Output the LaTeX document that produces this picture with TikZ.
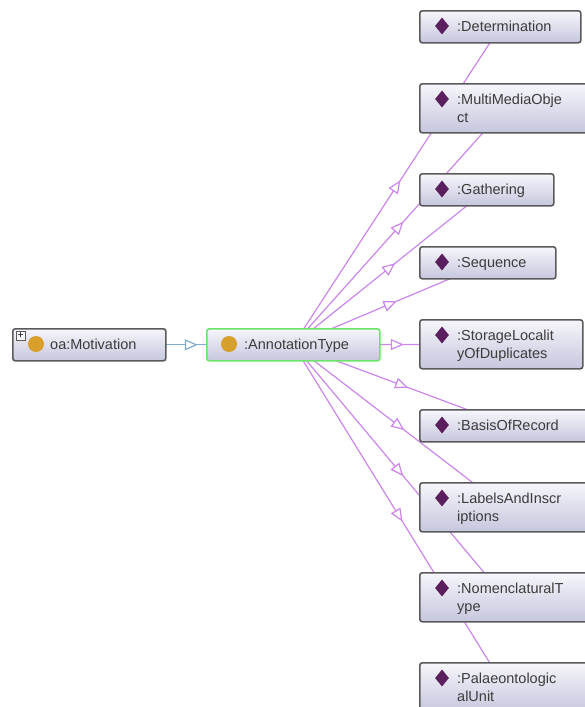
\documentclass[tikz,border=0pt]{standalone}
\usepackage{fontspec}
\setmainfont{Liberation Sans}
\usetikzlibrary{arrows.meta, shapes.geometric, decorations.markings, backgrounds}

\definecolor{edgePurple}{HTML}{CC85EA}
\definecolor{edgeBlue}{HTML}{7FAAD2}
\definecolor{boxGray}{HTML}{5A5A5A}
\definecolor{boxGreen}{HTML}{6BE36B}
\definecolor{gemPurple}{HTML}{5B1F5E}
\definecolor{dotGold}{HTML}{D6A02B}
\definecolor{textGray}{HTML}{3C3C3C}
\definecolor{boxTop}{HTML}{F6F6FB}
\definecolor{boxBottom}{HTML}{C6C6DE}

\begin{document}
\begin{tikzpicture}[
                x=1pt,
                y=-1pt,
                classbox/.style={
                    draw=boxGray,
                    line width=1.6pt,
                    rounded corners=2.5pt,
                    top color=boxTop,
                    bottom color=boxBottom,
                    anchor=north west,
                    inner sep=0,
                    minimum height=32pt
                },
                wordlabel/.style={
                    anchor=north west,
                    align=left,
                    inner sep=0,
                    text=textGray,
                    font=\fontsize{14.5}{18}\selectfont,
                    execute at begin node=\strut
                },
                gem/.style={
                    diamond,
                    fill=gemPurple,
                    inner sep=0,
                    minimum width=14pt,
                    minimum height=17pt
                },
                golddot/.style={
                    circle,
                    fill=dotGold,
                    inner sep=0,
                    minimum size=16pt
                },
                midarrow/.style={
                    line width=1.2pt,
                    draw=#1,
                    postaction={decorate},
                    decoration={
                        markings,
                        mark=at position 0.5 with {\arrow[xshift=6.5pt]{Triangle[length=13pt,width=11pt,fill=white]}}
                    }
                }
            ]
            \useasboundingbox (0,0) rectangle (584,707);

            % left side
            \node[classbox, minimum width=153pt] (motivation) at (12,328) {};
            \node[golddot] (motivationDot) at ([shift={(24,16)}]motivation.north west) {};
            \node[wordlabel] (motivationText) at ([shift={(38,8.4)}]motivation.north west) {oa:Motivation};
            \node[draw=boxGray, fill=boxTop, inner sep=0, minimum size=9pt, font=\fontsize{10}{10}\selectfont] (motivationPlus) at (20.5,336) {+};

            \node[classbox, draw=boxGreen, minimum width=173pt] (annotation) at (206,328) {};
            \node[golddot] (annotationDot) at ([shift={(23,16)}]annotation.north west) {};
            \node[wordlabel] (annotationText) at ([shift={(38,8.4)}]annotation.north west) {:AnnotationType};

            % right column
            \node[classbox, minimum width=161pt] (determination) at (419,10) {};
            \node[gem] (determinationGem) at ([shift={(23,16)}]determination.north west) {};
            \node[wordlabel] (determinationText) at ([shift={(38,8.4)}]determination.north west) {:Determination};

            \node[classbox, minimum width=170pt, minimum height=49pt] (multimedia) at (419,83) {};
            \node[gem] (multimediaGem) at ([shift={(23,16)}]multimedia.north west) {};
            \node[wordlabel] (multimediaText) at ([shift={(38,10.4)}]multimedia.north west) {:MultiMediaObje\\ct};

            \node[classbox, minimum width=134pt] (gathering) at (419,173) {};
            \node[gem] (gatheringGem) at ([shift={(23,16)}]gathering.north west) {};
            \node[wordlabel] (gatheringText) at ([shift={(38,8.4)}]gathering.north west) {:Gathering};

            \node[classbox, minimum width=136pt] (sequence) at (419,246) {};
            \node[gem] (sequenceGem) at ([shift={(23,16)}]sequence.north west) {};
            \node[wordlabel] (sequenceText) at ([shift={(38,8.4)}]sequence.north west) {:Sequence};

            \node[classbox, minimum width=163pt, minimum height=49pt] (storage) at (419,319) {};
            \node[gem] (storageGem) at ([shift={(23,16)}]storage.north west) {};
            \node[wordlabel] (storageText) at ([shift={(38,10.4)}]storage.north west) {:StorageLocalit\\yOfDuplicates};

            \node[classbox, minimum width=182pt] (basis) at (419,409) {};
            \node[gem] (basisGem) at ([shift={(23,16)}]basis.north west) {};
            \node[wordlabel] (basisText) at ([shift={(38,8.4)}]basis.north west) {:BasisOfRecord};

            \node[classbox, minimum width=170pt, minimum height=49pt] (labels) at (419,482) {};
            \node[gem] (labelsGem) at ([shift={(23,16)}]labels.north west) {};
            \node[wordlabel] (labelsText) at ([shift={(38,10.4)}]labels.north west) {:LabelsAndInscr\\iptions};

            \node[classbox, minimum width=170pt, minimum height=49pt] (nomenclatural) at (419,572) {};
            \node[gem] (nomenclaturalGem) at ([shift={(23,16)}]nomenclatural.north west) {};
            \node[wordlabel] (nomenclaturalText) at ([shift={(38,10.4)}]nomenclatural.north west) {:NomenclaturalT\\ype};

            \node[classbox, minimum width=170pt, minimum height=49pt] (palaeo) at (419,662) {};
            \node[gem] (palaeoGem) at ([shift={(23,16)}]palaeo.north west) {};
            \node[wordlabel] (palaeoText) at ([shift={(38,10.4)}]palaeo.north west) {:Palaeontologic\\alUnit};

            % edges behind the boxes
            \begin{scope}[on background layer]
                \draw[midarrow=edgeBlue] (motivation.center) -- (annotation.center);
                \draw[midarrow=edgePurple] (annotation.center) -- (determination.center);
                \draw[midarrow=edgePurple] (annotation.center) -- (multimedia.center);
                \draw[midarrow=edgePurple] (annotation.center) -- (gathering.center);
                \draw[midarrow=edgePurple] (annotation.center) -- (sequence.center);
                \draw[midarrow=edgePurple] (annotation.center) -- (storage.center);
                \draw[midarrow=edgePurple] (annotation.center) -- (basis.center);
                \draw[midarrow=edgePurple] (annotation.center) -- (labels.center);
                \draw[midarrow=edgePurple] (annotation.center) -- (nomenclatural.center);
                \draw[midarrow=edgePurple] (annotation.center) -- (palaeo.center);
            \end{scope}
\end{tikzpicture}
\end{document}
